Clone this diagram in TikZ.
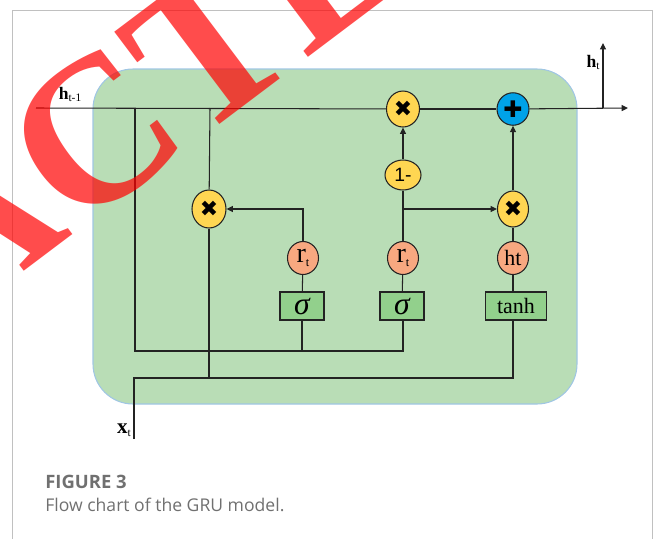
\documentclass[tikz,border=0pt]{standalone}
\usepackage{fontspec}
\setmainfont{Liberation Serif}
\newfontfamily\capfont{Open Sans}
\newfontfamily\glyphfont{DejaVu Sans}
\newfontfamily\arialfont{Liberation Sans}
\usetikzlibrary{arrows.meta, shapes.geometric, calc}
\definecolor{cellGreen}{RGB}{185,221,182}
\definecolor{cellEdge}{RGB}{160,198,228}
\definecolor{gateYellow}{RGB}{255,214,82}
\definecolor{gateOrange}{RGB}{248,168,128}
\definecolor{gateBlue}{RGB}{0,162,232}
\definecolor{boxGreen}{RGB}{146,208,140}
\definecolor{wireGray}{RGB}{35,35,35}
\definecolor{frameGray}{RGB}{192,192,192}
\definecolor{capGray}{RGB}{112,112,112}
\newcommand{\gatesub}[1]{\raisebox{-0.3ex}{\fontsize{7}{7}\selectfont #1}}
\newcommand{\lblsub}[1]{\raisebox{-0.25ex}{\fontsize{6.5}{6.5}\selectfont #1}}
\newcommand{\mulsym}{{\glyphfont\fontsize{12.5}{12.5}\selectfont ✖}}
\newcommand{\addsym}{{\glyphfont\fontsize{13}{13}\selectfont ✚}}
\tikzset{
	opnode/.style={ellipse, draw=wireGray, line width=0.6pt, fill=gateYellow,
		minimum width=0.66cm, minimum height=0.72cm, inner sep=0pt},
	actnode/.style={ellipse, draw=wireGray, line width=0.6pt, fill=gateOrange,
		minimum width=0.62cm, minimum height=0.66cm, inner sep=0pt},
	gatebox/.style={rectangle, draw=wireGray, line width=0.6pt, fill=boxGreen,
		minimum width=0.88cm, minimum height=0.56cm, inner sep=0pt},
	flowarr/.style={-{Triangle[length=3.6pt, width=3.4pt]}, draw=wireGray, line width=0.6pt},
	wire/.style={draw=wireGray, line width=0.6pt},
	lbl/.style={inner sep=0pt, font=\fontsize{10}{10}\selectfont},
	stamp/.style={rotate=37, text=red, text opacity=0.7, inner sep=0pt, outer sep=0pt,
		font=\bfseries\fontsize{119}{119}\selectfont}
}

\begin{document}
\begin{tikzpicture}[x=0.02cm, y=-0.02cm]
	\useasboundingbox (0,0) rectangle (656,538);
	% page frame and cell body
	\draw[frameGray, line width=0.5pt] (12,560) -- (12,10) -- (652,10) -- (652,560);
	\filldraw[draw=cellEdge, fill=cellGreen, line width=0.6pt, rounded corners=0.8cm] (93,69) rectangle (577,404);

	% gates and operators
	\node[opnode, minimum width=0.68cm, minimum height=0.76cm] (mulr) at (209,209) {\mulsym};
	\node[opnode] (mulz) at (403,109) {\mulsym};
	\node[opnode, minimum width=0.72cm, minimum height=0.6cm] (onem) at (403,175) {\arialfont\fontsize{11}{11}\selectfont 1-};
	\node[opnode, minimum width=0.62cm] (mulh) at (513,209) {\mulsym};
	\node[opnode, fill=gateBlue, minimum width=0.64cm, minimum height=0.65cm] (add) at (513,109) {\addsym};
	\node[actnode] (rone) at (303,258) {\fontsize{16}{16}\selectfont r\gatesub{t}};
	\node[actnode] (rtwo) at (403,258) {\fontsize{16}{16}\selectfont r\gatesub{t}};
	\node[actnode] (cand) at (513,258) {\fontsize{12.5}{12.5}\selectfont ht};
	\node[gatebox] (sigone) at (302,306) {\fontsize{18}{18}\selectfont\itshape σ};
	\node[gatebox] (sigtwo) at (402,306) {\fontsize{18}{18}\selectfont\itshape σ};
	\node[gatebox, minimum width=1.22cm] (tanh) at (516,306) {\fontsize{12.5}{12.5}\selectfont tanh};

	% wire points
	\coordinate (hin) at (36,108);
	\coordinate (hout) at (628,108);
	\coordinate (hup) at (603,43);
	\coordinate (htap) at (603,108);
	\coordinate (tapa) at (135,108);
	\coordinate (tapb) at (210,108);
	\coordinate (busa) at (135,351);
	\coordinate (xin) at (134,439);
	\coordinate (xbus) at (134,378);
	\coordinate (tanhin) at (513,378);

	% state line
	\draw[wire] (hin) -- (mulz);
	\draw[wire] (mulz) -- (add);
	\draw[flowarr] (add) -- (hout);
	\draw[flowarr] (htap) -- (hup);

	% reset and update paths
	\draw[wire] (tapa) -- (busa) -| (rtwo |- sigtwo.south);
	\draw[wire] (sigone.south) -- (sigone |- busa);
	\draw[wire] (tapb) -- (mulr);
	\draw[wire] (mulr) -- (mulr |- xbus);
	\draw[wire] (xin) -- (xbus) -- (tanhin) -- (tanhin |- tanh.south);
	\draw[wire] (sigone) -- (rone);
	\draw[wire] (sigtwo) -- (rtwo);
	\draw[wire] (cand) -- (cand |- tanh.north);
	\draw[flowarr] (rone) |- (mulr);
	\draw[wire] (rtwo) -- (onem);
	\draw[flowarr] (onem) -- (mulz);
	\draw[flowarr] (onem |- mulh) -- (mulh);
	\draw[wire] (cand) -- (mulh);
	\draw[flowarr] (mulh) -- (add);

	% labels
	\node[lbl] (hprev) at (70,94) {\textbf{h}\lblsub{t-1}};
	\node[lbl] (hnow) at (593,62) {\textbf{h}\lblsub{t}};
	\node[lbl, font=\fontsize{12}{12}\selectfont] (xnow) at (124,430) {\textbf{x}\lblsub{t}};

	% caption
	\node[anchor=base west, inner sep=0pt, text=capGray, font=\capfont\bfseries\fontsize{10.5}{12}\selectfont] (fignum) at (45,488) {FIGURE 3};
	\node[anchor=base west, inner sep=0pt, text=capGray, font=\capfont\fontsize{10}{12}\selectfont] (figcap) at (45,511) {Flow chart of the GRU model.};

	% stamp across the sheet
	\begin{scope}
		\clip (0,0) rectangle (656,538);
		\node[stamp, anchor=base west] (stampb) at (74,234) {CTED};
		\node[stamp, anchor=base east] (stampa) at (74,234) {RETRA};
	\end{scope}
\end{tikzpicture}
\end{document}
